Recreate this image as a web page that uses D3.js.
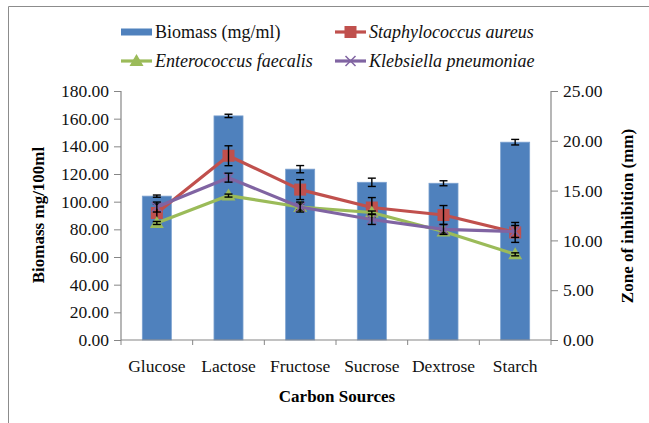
<!DOCTYPE html>
<html>
<head>
<meta charset="utf-8">
<script src="https://cdn.jsdelivr.net/npm/d3@7"></script>
<style>
  body { margin: 0; background: #fff; }
  text { font-family: "Liberation Serif", "Times New Roman", serif; }
</style>
</head>
<body>
<div id="chart"></div>
<script>
// Carbon sources on the x axis
const categories = ['Glucose', 'Lactose', 'Fructose', 'Sucrose', 'Dextrose', 'Starch'];

// Biomass bars (left axis, mg/100ml)
const biomass = [104, 162, 123.5, 114, 113.3, 143];
const biomassErr = [0.8, 1.2, 2.6, 3.0, 1.8, 2.0];

// Zone of inhibition lines (right axis, mm)
const saureus = [12.75, 18.5, 15.1, 13.3, 12.55, 10.8];
const saureusErr = [0.9, 1.0, 1.0, 1.0, 0.95, 1.0];
const efaecalis = [11.75, 14.5, 13.35, 12.8, 10.9, 8.6];
const efaecalisErr = [0.15, 0.15, 0.3, 0.15, 0.15, 0.15];
const kpneumoniae = [13.35, 16.3, 13.35, 12.1, 11.1, 10.9];
const kpneumoniaeErr = [0.5, 0.45, 0.5, 0.5, 0.5, 0.6];

const leftTicks = [0, 20, 40, 60, 80, 100, 120, 140, 160, 180];
const rightTicks = [0, 5, 10, 15, 20, 25];

const width = 649, height = 423;
const plot = { left: 121, right: 551, top: 91, bottom: 340 };
const axisColor = '#868686';
const serif = '"Liberation Serif", "Times New Roman", serif';

const svg = d3.select('#chart').append('svg')
    .attr('width', width)
    .attr('height', height);

// outer chart frame (runs off the right and bottom of the picture)
svg.append('path')
    .attr('d', `M8.5,${height} L8.5,6.5 L${width},6.5`)
    .attr('fill', 'none')
    .attr('stroke', '#8c8c8c')
    .attr('stroke-width', 1);

const x = d3.scaleBand()
    .domain(categories)
    .range([plot.left, plot.right])
    .paddingInner(0.595)
    .paddingOuter(0.2975);

const xBand = d3.scaleBand()
    .domain(categories)
    .range([plot.left, plot.right]);

const yLeft = d3.scaleLinear().domain([0, 180]).range([plot.bottom, plot.top]);
const yRight = d3.scaleLinear().domain([0, 25]).range([plot.bottom, plot.top]);

// Bars
svg.append('g')
    .selectAll('rect')
    .data(categories)
    .enter()
    .append('rect')
    .attr('x', d => x(d))
    .attr('width', x.bandwidth())
    .attr('y', (d, i) => yLeft(biomass[i]))
    .attr('height', (d, i) => plot.bottom - yLeft(biomass[i]))
    .attr('fill', '#4F81BD')
    .attr('stroke', '#7aa0cf')
    .attr('stroke-width', 0.8);

const cx = d => xBand(d) + xBand.bandwidth() / 2;

// Error bars helper
function errorBars(values, errs, scale) {
    const g = svg.append('g')
        .attr('stroke', '#000')
        .attr('stroke-width', 1.4)
        .attr('fill', 'none');
    categories.forEach((c, i) => {
        const xc = cx(c);
        const y1 = scale(values[i] + errs[i]);
        const y2 = scale(values[i] - errs[i]);
        g.append('line').attr('x1', xc).attr('x2', xc).attr('y1', y1).attr('y2', y2);
        g.append('line').attr('x1', xc - 4).attr('x2', xc + 4).attr('y1', y1).attr('y2', y1);
        g.append('line').attr('x1', xc - 4).attr('x2', xc + 4).attr('y1', y2).attr('y2', y2);
    });
}

errorBars(biomass, biomassErr, yLeft);

// Axes
const axisG = svg.append('g');
const leftAxis = d3.axisLeft(yLeft).tickValues(leftTicks).tickSize(7).tickPadding(5)
    .tickFormat(d3.format('.2f'));
const rightAxis = d3.axisRight(yRight).tickValues(rightTicks).tickSize(7).tickPadding(5)
    .tickFormat(d3.format('.2f'));
const bottomAxis = d3.axisBottom(xBand).tickSize(0).tickPadding(20);

const gl = axisG.append('g').attr('transform', `translate(${plot.left},0)`).call(leftAxis);
const gr = axisG.append('g').attr('transform', `translate(${plot.right},0)`).call(rightAxis);
const gb = axisG.append('g').attr('transform', `translate(0,${plot.bottom})`).call(bottomAxis);

// x tick marks at band boundaries
const bounds = categories.map(c => xBand(c)).concat([plot.right]);
gb.selectAll('.bound')
    .data(bounds)
    .enter()
    .append('line')
    .attr('class', 'bound')
    .attr('x1', d => d).attr('x2', d => d)
    .attr('y1', 0).attr('y2', 5)
    .attr('stroke', axisColor);

[gl, gr, gb].forEach(g => {
    g.attr('font-family', serif).attr('font-size', 17.5);
    g.select('.domain').attr('stroke', axisColor).attr('stroke-width', 1.2);
    g.selectAll('.tick line').attr('stroke', axisColor);
    g.selectAll('.tick text')
        .attr('fill', '#111')
        .attr('font-family', serif)
        .style('font-family', serif)
        .style('font-size', '17.5px');
});
gl.select('.domain').attr('d', `M0,${plot.top}V${plot.bottom}`);
gr.select('.domain').attr('d', `M0,${plot.top}V${plot.bottom}`);
gb.select('.domain').attr('d', `M${plot.left},0H${plot.right}`);

// Lines with markers
const series = [
    { name: 'Staphylococcus aureus', values: saureus, errs: saureusErr, color: '#C0504D', marker: 'square' },
    { name: 'Enterococcus faecalis', values: efaecalis, errs: efaecalisErr, color: '#9BBB59', marker: 'triangle' },
    { name: 'Klebsiella pneumoniae', values: kpneumoniae, errs: kpneumoniaeErr, color: '#8064A2', marker: 'x' }
];

function drawMarker(g, type, color, px, py) {
    if (type === 'square') {
        g.append('rect').attr('x', px - 6).attr('y', py - 6).attr('width', 12).attr('height', 12)
            .attr('fill', color);
    } else if (type === 'triangle') {
        g.append('path').attr('d', `M${px},${py - 7}L${px + 7},${py + 5}L${px - 7},${py + 5}Z`)
            .attr('fill', color);
    } else {
        g.append('path').attr('d', `M${px - 5},${py - 5}L${px + 5},${py + 5}M${px - 5},${py + 5}L${px + 5},${py - 5}`)
            .attr('stroke', color).attr('stroke-width', 1.5);
    }
}

const line = d3.line()
    .x((d, i) => cx(categories[i]))
    .y(d => yRight(d));

series.forEach(s => {
    svg.append('path')
        .datum(s.values)
        .attr('d', line)
        .attr('fill', 'none')
        .attr('stroke', s.color)
        .attr('stroke-width', 3.2)
        .attr('stroke-linejoin', 'round');
    const mg = svg.append('g');
    s.values.forEach((v, i) => drawMarker(mg, s.marker, s.color, cx(categories[i]), yRight(v)));
    errorBars(s.values, s.errs, yRight);
});

// Axis titles
svg.append('text')
    .attr('transform', 'translate(44,215) rotate(-90)')
    .attr('text-anchor', 'middle')
    .attr('font-weight', 'bold')
    .attr('font-size', 17)
    .text('Biomass mg/100ml');

svg.append('text')
    .attr('transform', 'translate(633,216) rotate(-90)')
    .attr('text-anchor', 'middle')
    .attr('font-weight', 'bold')
    .attr('font-size', 17)
    .text('Zone of inhibition (mm)');

svg.append('text')
    .attr('x', 337)
    .attr('y', 402)
    .attr('text-anchor', 'middle')
    .attr('font-weight', 'bold')
    .attr('font-size', 17)
    .text('Carbon Sources');

// Legend
const legendItems = [
    { name: 'Biomass (mg/ml)', color: '#4F81BD', type: 'bar', italic: false, x: 121, y: 32 },
    { name: 'Staphylococcus aureus', color: '#C0504D', type: 'square', italic: true, x: 335, y: 32 },
    { name: 'Enterococcus faecalis', color: '#9BBB59', type: 'triangle', italic: true, x: 121, y: 61 },
    { name: 'Klebsiella pneumoniae', color: '#8064A2', type: 'x', italic: true, x: 335, y: 61 }
];

const legend = svg.append('g');
legendItems.forEach(item => {
    const g = legend.append('g');
    if (item.type === 'bar') {
        g.append('rect').attr('x', item.x).attr('y', item.y - 3.5).attr('width', 31).attr('height', 7)
            .attr('fill', item.color);
    } else {
        g.append('line').attr('x1', item.x).attr('x2', item.x + 31).attr('y1', item.y).attr('y2', item.y)
            .attr('stroke', item.color).attr('stroke-width', 3.2);
        drawMarker(g, item.type, item.color, item.x + 15.5, item.y);
    }
    g.append('text')
        .attr('x', item.x + 34)
        .attr('y', item.y + 6)
        .attr('font-size', 18)
        .attr('font-style', item.italic ? 'italic' : 'normal')
        .attr('fill', '#111')
        .text(item.name);
});
</script>
</body>
</html>
